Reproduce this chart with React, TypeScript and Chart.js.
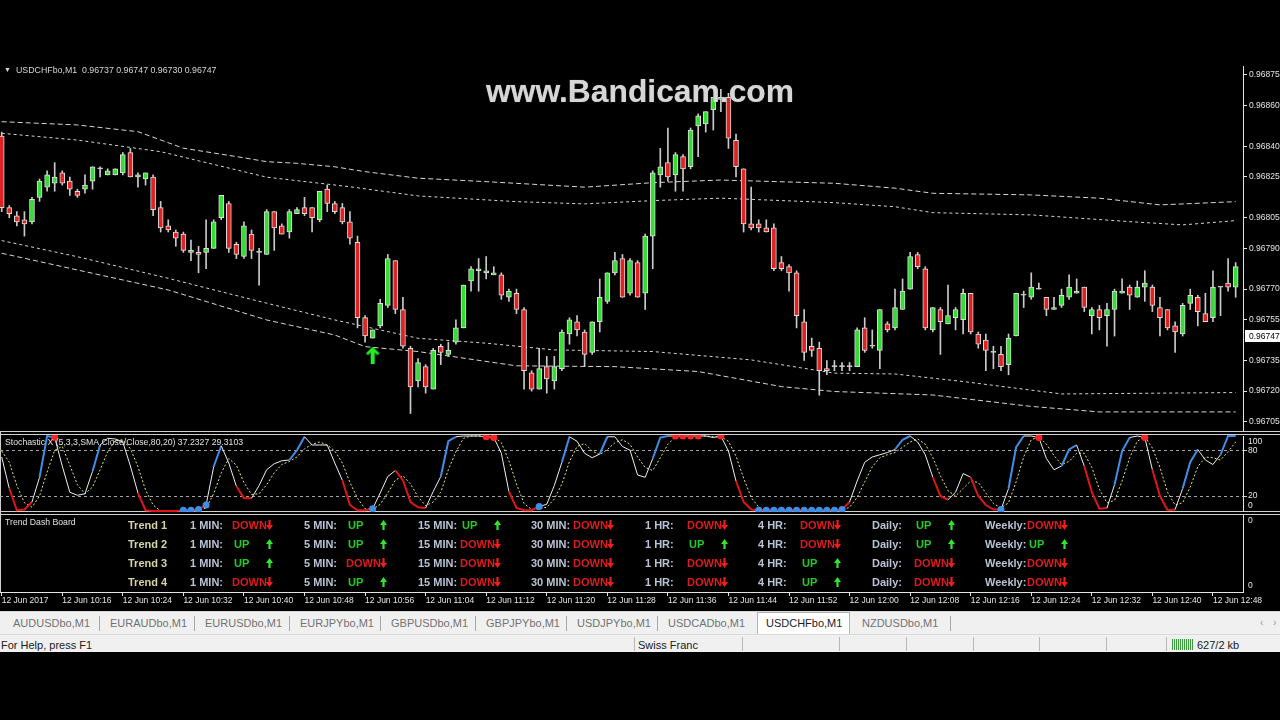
import React, { useEffect, useRef } from 'react';
import { Chart, registerables } from 'chart.js';

Chart.register(...registerables);

const FONT = '"Liberation Sans", Arial, Helvetica, sans-serif';

/* ---------------- price pane ---------------- */
const chartTitle = 'USDCHFbo,M1  0.96737 0.96747 0.96730 0.96747';
const bidPrice = 0.96747;
const priceAxisMin = 0.9670044;
const priceAxisMax = 0.9687941;
const priceTicks = [0.96875, 0.9686, 0.9684, 0.96825, 0.96805, 0.9679, 0.9677, 0.96755, 0.96735, 0.9672, 0.96705];

// M1 bars starting 12 Jun 10:08, each [open, high, low, close]
const candles: number[][] = [
  [0.96845, 0.96847, 0.96808, 0.9681], [0.9681, 0.96811, 0.96805, 0.96807], [0.96806, 0.96808, 0.96801, 0.96803], [0.96804, 0.96808, 0.96796, 0.96802],
  [0.96803, 0.96815, 0.96802, 0.96814], [0.96815, 0.96824, 0.96813, 0.96823], [0.9682, 0.96828, 0.96818, 0.96826], [0.96822, 0.96832, 0.96818, 0.96825],
  [0.96827, 0.96828, 0.96821, 0.96822], [0.96823, 0.96825, 0.96816, 0.96819], [0.96818, 0.96819, 0.96815, 0.96816], [0.96819, 0.96826, 0.96817, 0.96821],
  [0.96823, 0.9683, 0.96819, 0.9683], [0.96829, 0.9683, 0.96825, 0.96829], [0.96826, 0.96829, 0.96826, 0.96828], [0.96826, 0.96829, 0.96826, 0.96829],
  [0.96827, 0.96837, 0.96826, 0.96836], [0.96837, 0.96839, 0.96825, 0.96825], [0.96825, 0.96827, 0.9682, 0.96826], [0.96824, 0.96827, 0.96821, 0.96827],
  [0.96825, 0.96826, 0.96806, 0.96809], [0.9681, 0.96813, 0.96798, 0.968], [0.96801, 0.96804, 0.96798, 0.96799], [0.96798, 0.96799, 0.96791, 0.96795],
  [0.96797, 0.96798, 0.96788, 0.96789], [0.96788, 0.96794, 0.96784, 0.96789], [0.96788, 0.96791, 0.96778, 0.96787], [0.96788, 0.96804, 0.9678, 0.9679],
  [0.9679, 0.96804, 0.9679, 0.96803], [0.96805, 0.96816, 0.96804, 0.96816], [0.96812, 0.96813, 0.96788, 0.9679], [0.96792, 0.96793, 0.96785, 0.96787],
  [0.96786, 0.96803, 0.96785, 0.96801], [0.96797, 0.96799, 0.96785, 0.96789], [0.96788, 0.9679, 0.96772, 0.96788], [0.96787, 0.96809, 0.96787, 0.96808],
  [0.96808, 0.96808, 0.96789, 0.968], [0.96801, 0.96802, 0.96797, 0.96797], [0.96798, 0.96809, 0.96795, 0.96808], [0.96807, 0.9681, 0.96807, 0.96809],
  [0.9681, 0.96815, 0.96806, 0.96807], [0.9681, 0.9681, 0.96798, 0.96805], [0.96804, 0.96818, 0.96803, 0.96818], [0.96819, 0.96821, 0.96808, 0.96812],
  [0.96812, 0.96813, 0.96807, 0.96808], [0.9681, 0.96812, 0.96802, 0.96803], [0.96803, 0.96808, 0.96792, 0.96795], [0.96793, 0.96796, 0.96751, 0.96756],
  [0.96756, 0.96757, 0.96744, 0.96747], [0.96746, 0.9675, 0.96746, 0.9675], [0.96752, 0.96765, 0.96751, 0.96763], [0.96762, 0.96787, 0.96761, 0.96785],
  [0.96784, 0.96784, 0.96758, 0.9676], [0.9676, 0.96766, 0.96741, 0.96742], [0.96741, 0.96742, 0.96709, 0.96722], [0.96725, 0.96736, 0.96722, 0.96734],
  [0.96732, 0.96733, 0.96719, 0.96722], [0.96721, 0.96741, 0.96721, 0.9674], [0.96742, 0.96743, 0.96733, 0.96739], [0.96738, 0.96744, 0.96737, 0.9674],
  [0.96744, 0.96755, 0.96743, 0.96751], [0.96751, 0.96772, 0.96751, 0.96772], [0.96774, 0.96781, 0.96769, 0.9678], [0.96779, 0.96785, 0.96769, 0.9678],
  [0.96778, 0.96786, 0.96775, 0.96779], [0.96777, 0.96781, 0.96777, 0.96778], [0.96777, 0.96778, 0.96765, 0.96767], [0.96766, 0.9677, 0.96764, 0.96769],
  [0.96768, 0.9677, 0.96758, 0.9676], [0.9676, 0.96761, 0.96721, 0.9673], [0.96729, 0.9673, 0.9672, 0.96721], [0.96721, 0.96741, 0.96721, 0.96731],
  [0.96732, 0.96737, 0.96719, 0.96726], [0.96725, 0.96737, 0.96721, 0.96732], [0.96731, 0.9675, 0.9673, 0.96749], [0.96748, 0.96756, 0.96743, 0.96755],
  [0.96754, 0.96757, 0.96747, 0.9675], [0.96749, 0.9675, 0.96732, 0.96738], [0.96739, 0.96754, 0.96738, 0.96754], [0.96754, 0.96775, 0.96749, 0.96766],
  [0.96764, 0.96778, 0.96763, 0.96778], [0.96778, 0.96788, 0.96777, 0.96784], [0.96785, 0.96787, 0.96766, 0.96766], [0.96768, 0.96785, 0.96767, 0.96784],
  [0.96783, 0.96784, 0.96766, 0.96766], [0.96768, 0.96797, 0.9676, 0.96796], [0.96796, 0.96828, 0.9678, 0.96827], [0.96826, 0.96839, 0.9682, 0.9683],
  [0.96832, 0.96849, 0.96823, 0.96825], [0.96826, 0.96837, 0.96818, 0.96836], [0.96835, 0.96836, 0.96818, 0.96829], [0.9683, 0.96849, 0.96829, 0.96848],
  [0.9685, 0.96856, 0.96835, 0.96855], [0.96851, 0.96857, 0.96847, 0.96857], [0.96858, 0.96864, 0.96848, 0.96864], [0.96863, 0.96868, 0.96857, 0.96864],
  [0.96864, 0.96866, 0.96839, 0.96844], [0.96843, 0.96846, 0.96825, 0.9683], [0.96829, 0.96829, 0.96798, 0.96802], [0.96802, 0.9682, 0.96799, 0.968],
  [0.96802, 0.96804, 0.96798, 0.968], [0.968, 0.96804, 0.96798, 0.96798], [0.968, 0.96802, 0.96779, 0.9678], [0.96783, 0.96786, 0.96779, 0.9678],
  [0.96781, 0.96782, 0.96769, 0.96778], [0.96778, 0.96779, 0.96751, 0.96757], [0.96754, 0.9676, 0.96735, 0.96739], [0.96742, 0.96746, 0.96737, 0.9674],
  [0.96741, 0.96744, 0.96718, 0.9673], [0.96731, 0.96735, 0.96728, 0.9673], [0.96732, 0.96735, 0.9673, 0.96732], [0.96732, 0.96734, 0.9673, 0.96732],
  [0.96732, 0.96734, 0.9673, 0.96732], [0.96732, 0.96751, 0.96732, 0.9675], [0.96751, 0.96756, 0.96739, 0.9674], [0.96742, 0.9675, 0.96741, 0.96742],
  [0.9674, 0.9676, 0.96731, 0.9676], [0.96753, 0.96754, 0.96749, 0.9675], [0.96751, 0.9677, 0.9675, 0.96761], [0.9676, 0.96775, 0.9676, 0.96769],
  [0.9677, 0.96788, 0.9677, 0.96786], [0.96787, 0.96788, 0.9678, 0.96781], [0.9678, 0.96781, 0.9675, 0.96751], [0.9675, 0.96761, 0.96749, 0.96761],
  [0.9676, 0.96761, 0.96738, 0.96754], [0.96753, 0.96772, 0.96753, 0.96757], [0.96756, 0.96761, 0.9675, 0.9676], [0.96755, 0.9677, 0.96748, 0.96768],
  [0.96768, 0.96768, 0.96748, 0.96749], [0.96748, 0.96749, 0.96741, 0.96743], [0.96745, 0.96748, 0.9673, 0.9674], [0.96739, 0.96742, 0.96731, 0.96739],
  [0.96738, 0.96742, 0.9673, 0.96732], [0.96733, 0.96748, 0.96728, 0.96746], [0.96747, 0.96768, 0.96747, 0.96768], [0.96767, 0.96769, 0.96761, 0.96767],
  [0.96766, 0.96778, 0.96765, 0.96771], [0.9677, 0.96773, 0.9677, 0.9677], [0.96766, 0.96766, 0.96757, 0.9676], [0.9676, 0.96766, 0.9676, 0.96761],
  [0.96762, 0.9677, 0.96761, 0.96767], [0.96766, 0.96777, 0.96765, 0.96771], [0.96768, 0.96775, 0.96768, 0.96769], [0.96771, 0.96771, 0.96759, 0.96761],
  [0.96757, 0.96761, 0.96748, 0.9676], [0.9676, 0.96762, 0.9675, 0.96756], [0.96757, 0.96763, 0.96742, 0.9676], [0.9676, 0.9677, 0.96747, 0.96769],
  [0.96768, 0.96775, 0.96768, 0.96769], [0.96771, 0.96772, 0.9676, 0.96767], [0.96766, 0.96774, 0.96766, 0.96771], [0.96771, 0.96779, 0.96764, 0.96773],
  [0.96771, 0.96772, 0.96759, 0.96762], [0.96761, 0.96766, 0.96747, 0.96756], [0.9676, 0.9676, 0.9675, 0.96751], [0.96752, 0.96754, 0.96739, 0.96749],
  [0.96748, 0.96763, 0.96747, 0.96762], [0.96763, 0.9677, 0.9676, 0.96767], [0.96766, 0.96767, 0.96752, 0.96759], [0.96758, 0.96768, 0.96754, 0.96754],
  [0.96756, 0.96779, 0.96754, 0.96771], [0.96771, 0.96771, 0.96757, 0.96771], [0.96773, 0.96785, 0.96769, 0.96771], [0.96771, 0.96783, 0.96766, 0.96781],
];

// channel bands, sampled as [bar index, price]
const upperOuterBand = [
  [0, 0.968521], [10, 0.968505], [18, 0.968472], [24, 0.968391], [31, 0.96835], [35, 0.968325], [39, 0.968317],
  [44, 0.9683], [48, 0.968276], [55, 0.968244], [64, 0.968227], [77, 0.9682], [86, 0.968222], [95, 0.968235],
  [110, 0.968219], [118, 0.968195], [123, 0.96817], [136, 0.968162], [145, 0.968146], [153, 0.968113], [163, 0.968129],
];
const upperInnerBand = [
  [0, 0.968464], [10, 0.968431], [21, 0.968374], [35, 0.968249], [46, 0.968202], [55, 0.968157], [68, 0.968129],
  [77, 0.968118], [86, 0.968134], [95, 0.968146], [110, 0.968124], [118, 0.968104], [123, 0.968075], [136, 0.968064],
  [149, 0.968031], [156, 0.968015], [163, 0.968036],
];
const lowerInnerBand = [
  [0, 0.967938], [10, 0.967859], [22, 0.967753], [35, 0.967631], [44, 0.967549], [55, 0.967459], [64, 0.967435],
  [73, 0.967402], [86, 0.967394], [99, 0.967353], [110, 0.967288], [118, 0.967284], [127, 0.967247], [140, 0.967186],
  [163, 0.967193],
];
const lowerOuterBand = [
  [0, 0.967876], [10, 0.967794], [22, 0.967696], [35, 0.967549], [44, 0.967475], [48, 0.967418], [55, 0.967394],
  [68, 0.967324], [81, 0.96732], [92, 0.967296], [103, 0.967222], [110, 0.967198], [123, 0.967181], [136, 0.967125],
  [145, 0.967098], [163, 0.967098],
];

// buy arrow drawn below a bar
const buySignalBars = [49];
const buySignalPrices = [0.967377];

/* ---------------- stochastic pane ---------------- */
const stochLabel = 'Stochastic X (5,3,3,SMA,Close/Close,80,20) 37.2327 29.3103';
const stochLevels = [20, 80];
const stochK = [
  72, 30, 1, 2, 12, 45, 100, 98, 60, 25, 21, 23, 53, 88, 97, 96, 92, 60, 24, 1,
  0, 0, 0, 0, 1, 1, 2, 8, 59, 87, 64, 33, 17, 17, 34, 55, 63, 67, 68, 81,
  99, 88, 88, 88, 64, 41, 8, 1, 1, 3, 24, 46, 54, 41, 12, 5, 4, 26, 46, 93,
  99, 100, 100, 100, 99, 98, 77, 26, 4, 1, 1, 6, 9, 34, 65, 99, 93, 77, 71, 76,
  99, 99, 86, 81, 48, 45, 70, 98, 100, 100, 100, 100, 100, 100, 98, 100, 80, 40, 12, 2,
  1, 1, 1, 1, 1, 1, 1, 1, 1, 1, 1, 2, 12, 40, 65, 72, 75, 78, 82, 95,
  100, 92, 75, 45, 20, 15, 25, 50, 45, 20, 8, 2, 2, 30, 85, 100, 100, 98, 70, 55,
  60, 82, 88, 60, 25, 3, 4, 35, 80, 98, 100, 98, 55, 20, 1, 2, 30, 65, 82, 68,
  62, 75, 100, 100,
];
const stochD = [
  80, 65, 34, 11, 5, 20, 52, 81, 86, 61, 35, 23, 32, 55, 79, 94, 95, 83, 59, 28,
  8, 0, 0, 0, 0, 1, 1, 4, 23, 51, 70, 61, 38, 22, 23, 35, 51, 62, 66, 72,
  83, 89, 92, 88, 80, 64, 38, 17, 3, 2, 9, 24, 41, 47, 36, 19, 7, 12, 25, 55,
  79, 97, 100, 100, 100, 99, 91, 67, 36, 10, 2, 3, 5, 16, 36, 66, 86, 90, 80, 75,
  82, 91, 95, 89, 72, 58, 54, 71, 89, 99, 100, 100, 100, 100, 99, 99, 93, 73, 44, 18,
  5, 1, 1, 1, 1, 1, 1, 1, 1, 1, 1, 1, 5, 18, 39, 59, 71, 75, 78, 85,
  92, 96, 89, 71, 47, 27, 20, 30, 40, 38, 24, 10, 4, 11, 39, 72, 95, 99, 89, 74,
  62, 66, 77, 77, 58, 29, 11, 14, 40, 71, 93, 99, 84, 58, 25, 8, 11, 32, 59, 72,
  71, 68, 79, 92,
];
// colour state of each %K segment: w = neutral, b = rising strength, r = falling strength
const stochKSegments =
  'wrrrwbbwww' + 'wwbwwwwwrr' + 'rrrrrrrwbw' + 'wrrwwwwwbb' + 'wwwwwrrrrw' +
  'wwrrrrwwbb' + 'wwwwwwwrrr' + 'rwwwbwwwwb' + 'wwwwwwbbww' + 'wwwwwwwrrr' +
  'rrrrrrrrrr' + 'rrwwwwwwbb' + 'wwwrrwwwrr' + 'rrwbbwwwww' + 'bbwrrrwbbw' +
  'wwrrrwbbww' + 'wbb';
const stochSellDots = [7, 64, 65, 89, 90, 91, 92, 95, 137, 151];
const stochBuyDots = [24, 25, 26, 27, 49, 71, 100, 101, 102, 103, 104, 105, 106, 107, 108, 109, 110, 111, 132];

/* ---------------- time axis ---------------- */
const timeLabels = [
  '12 Jun 2017', '12 Jun 10:16', '12 Jun 10:24', '12 Jun 10:32', '12 Jun 10:40', '12 Jun 10:48', '12 Jun 10:56',
  '12 Jun 11:04', '12 Jun 11:12', '12 Jun 11:20', '12 Jun 11:28', '12 Jun 11:36', '12 Jun 11:44', '12 Jun 11:52',
  '12 Jun 12:00', '12 Jun 12:08', '12 Jun 12:16', '12 Jun 12:24', '12 Jun 12:32', '12 Jun 12:40', '12 Jun 12:48',
];
const BARS_PER_LABEL = 8;

/* ---------------- trend dashboard ---------------- */
const trendNames = ['Trend 1', 'Trend 2', 'Trend 3', 'Trend 4'];
const trendPeriods = ['1 MIN:', '5 MIN:', '15 MIN:', '30 MIN:', '1 HR:', '4 HR:', 'Daily:', 'Weekly:'];
const trendStates = [
  ['DOWN', 'UP', 'UP', 'DOWN', 'DOWN', 'DOWN', 'UP', 'DOWN'],
  ['UP', 'UP', 'DOWN', 'DOWN', 'UP', 'DOWN', 'UP', 'UP'],
  ['UP', 'DOWN', 'DOWN', 'DOWN', 'DOWN', 'UP', 'DOWN', 'DOWN'],
  ['DOWN', 'UP', 'DOWN', 'DOWN', 'DOWN', 'UP', 'DOWN', 'DOWN'],
];

/* ---------------- terminal chrome ---------------- */
const symbolTabs = ['AUDUSDbo,M1', 'EURAUDbo,M1', 'EURUSDbo,M1', 'EURJPYbo,M1', 'GBPUSDbo,M1', 'GBPJPYbo,M1', 'USDJPYbo,M1', 'USDCADbo,M1', 'USDCHFbo,M1', 'NZDUSDbo,M1'];
const activeSymbol = 'USDCHFbo,M1';
const statusHelp = 'For Help, press F1';
const statusSymbolName = 'Swiss Franc';
const statusTraffic = '627/2 kb';

/* ---------------- layout helpers ---------------- */
const X_MIN = -0.225;
const X_MAX = 163.97;
const AXIS_W = 37;
const AXIS_COLOR = '#e4e4e4';
const tabTextX = [13, 110, 205, 300, 391, 486, 577, 668, 766, 862];
const tabSeparatorX = [99, 194, 289, 380, 475, 566, 657, 950];
const statusSeparatorX = [634, 742, 839, 906, 973, 1039, 1106, 1166];
const dashColX = [190, 304, 418, 531, 645, 758, 872, 985];
const dashRowTop = [518, 537, 556, 575];

function fixRightAxis(scale: any) {
  scale.width = AXIS_W;
  scale.paddingTop = 0;
  scale.paddingBottom = 0;
}

const hiddenX = () => ({ type: 'linear', min: X_MIN, max: X_MAX, bounds: 'data', offset: false, display: false });

const common = {
  responsive: false,
  maintainAspectRatio: false,
  animation: false,
  events: [],
  plugins: { legend: { display: false }, tooltip: { enabled: false } },
};

function makeUpArrow(color: string) {
  const c = document.createElement('canvas');
  c.width = 14;
  c.height = 17;
  const g = c.getContext('2d')!;
  g.fillStyle = color;
  g.beginPath();
  g.moveTo(7, 0);
  g.lineTo(14, 7);
  g.lineTo(11.5, 8.5);
  g.lineTo(9, 6);
  g.lineTo(9, 17);
  g.lineTo(5, 17);
  g.lineTo(5, 6);
  g.lineTo(2.5, 8.5);
  g.lineTo(0, 7);
  g.closePath();
  g.fill();
  return c;
}

const priceDecor = {
  id: 'priceDecor',
  afterDraw(chart: any) {
    const { ctx, chartArea } = chart;
    const y = chart.scales.y;
    ctx.save();
    ctx.textBaseline = 'middle';
    ctx.fillStyle = '#d6d6d6';
    ctx.font = `7px ${FONT}`;
    ctx.fillText('\u25BC', 4, 4.5);
    ctx.font = `8.8px ${FONT}`;
    ctx.fillText(chartTitle, 16, 4.5);
    const py = Math.round(y.getPixelForValue(bidPrice));
    ctx.fillStyle = '#ffffff';
    ctx.fillRect(chartArea.right + 2, py - 6, chart.width - chartArea.right - 2, 12);
    ctx.fillStyle = '#000000';
    ctx.font = `8.5px ${FONT}`;
    ctx.fillText(bidPrice.toFixed(5), chartArea.right + 6, py + 0.5);
    ctx.restore();
  },
};

const stochDecor = {
  id: 'stochDecor',
  afterDraw(chart: any) {
    const { ctx, chartArea } = chart;
    ctx.save();
    ctx.textBaseline = 'middle';
    ctx.fillStyle = '#e2e2e2';
    ctx.font = `8.7px ${FONT}`;
    ctx.fillText(stochLabel, 5, 8);
    ctx.font = `8.5px ${FONT}`;
    ctx.fillStyle = AXIS_COLOR;
    ctx.fillText('100', chartArea.right + 5, 6.7);
    ctx.fillText('0', chartArea.right + 5, 71);
    ctx.restore();
  },
};

const dashDecor = {
  id: 'dashDecor',
  afterDraw(chart: any) {
    const { ctx, chartArea } = chart;
    ctx.save();
    ctx.textBaseline = 'middle';
    ctx.fillStyle = '#e2e2e2';
    ctx.font = `8.7px ${FONT}`;
    ctx.fillText('Trend Dash Board', 5, 8);
    ctx.font = `8.5px ${FONT}`;
    ctx.fillStyle = AXIS_COLOR;
    ctx.fillText('0', chartArea.right + 5, 6);
    ctx.fillText('0', chartArea.right + 5, 71);
    ctx.restore();
  },
};

function bandDataset(points: number[][], dash: number[]) {
  return {
    type: 'line',
    data: points.map(([i, p]) => ({ x: i, y: p })),
    borderColor: '#d6d6d6',
    borderWidth: 1,
    borderDash: dash,
    pointRadius: 0,
    tension: 0,
  };
}

function priceConfig(arrow: HTMLCanvasElement): any {
  const BULL = '#34dc34';
  const BEAR = '#e02222';
  const DOJI = '#d0d0d0';
  const fills = candles.map(([o, , , c]) => (c > o ? BULL : c < o ? BEAR : DOJI));
  const edges = candles.map(([o, , , c]) => (c === o ? DOJI : '#dedede'));
  return {
    type: 'bar',
    data: {
      datasets: [
        {
          type: 'scatter',
          data: buySignalBars.map((b, k) => ({ x: b, y: buySignalPrices[k] })),
          pointStyle: arrow,
          pointRadius: 8,
        },
        {
          type: 'bar',
          data: candles.map((c, i) => ({ x: i, y: [c[0], c[3]] })),
          backgroundColor: fills,
          borderColor: edges,
          borderWidth: 1,
          borderSkipped: false,
          grouped: false,
          maxBarThickness: 5,
          minBarLength: 1,
          categoryPercentage: 1,
          barPercentage: 1,
        },
        {
          type: 'bar',
          data: candles.map((c, i) => ({ x: i, y: [c[2], c[1]] })),
          backgroundColor: '#cacaca',
          borderWidth: 0,
          grouped: false,
          maxBarThickness: 1,
          categoryPercentage: 1,
          barPercentage: 1,
        },
        bandDataset(upperOuterBand, [5, 3]),
        bandDataset(upperInnerBand, [3, 3]),
        bandDataset(lowerInnerBand, [3, 3]),
        bandDataset(lowerOuterBand, [5, 3]),
      ],
    },
    options: {
      ...common,
      layout: { autoPadding: false, padding: 0 },
      scales: {
        x: hiddenX(),
        y: {
          position: 'right',
          min: priceAxisMin,
          max: priceAxisMax,
          bounds: 'data',
          afterBuildTicks: (s: any) => {
            s.ticks = priceTicks.map((v) => ({ value: v }));
          },
          afterFit: fixRightAxis,
          ticks: {
            color: AXIS_COLOR,
            font: { family: FONT, size: 8.5 },
            padding: 2,
            autoSkip: false,
            callback: (v: any) => Number(v).toFixed(5),
          },
          grid: { drawOnChartArea: false, drawTicks: true, tickLength: 4, tickColor: AXIS_COLOR },
          border: { display: true, color: AXIS_COLOR, width: 1 },
        },
      },
    },
    plugins: [priceDecor],
  };
}

function stochConfig(): any {
  const SEG: Record<string, string> = { w: '#eeeeee', b: '#3f8fe8', r: '#e01616' };
  return {
    type: 'line',
    data: {
      datasets: [
        {
          type: 'scatter',
          data: stochSellDots.map((i) => ({ x: i, y: stochK[i] })),
          pointRadius: 3.5,
          backgroundColor: '#ff2424',
          borderColor: '#ff2424',
          borderWidth: 0,
          clip: false,
        },
        {
          type: 'scatter',
          data: stochBuyDots.map((i) => ({ x: i, y: stochK[i] })),
          pointRadius: 3.5,
          backgroundColor: '#3f8fe8',
          borderColor: '#3f8fe8',
          borderWidth: 0,
          clip: false,
        },
        {
          data: stochK.map((v, i) => ({ x: i, y: v })),
          borderColor: '#eeeeee',
          borderWidth: 1,
          pointRadius: 0,
          tension: 0,
          clip: false,
          segment: {
            borderColor: (ctx: any) => SEG[stochKSegments[ctx.p0DataIndex]] || SEG.w,
            borderWidth: (ctx: any) => (stochKSegments[ctx.p0DataIndex] === 'w' ? 1 : 2),
          },
        },
        {
          data: stochD.map((v, i) => ({ x: i, y: v })),
          borderColor: '#e8e86a',
          borderWidth: 1,
          borderDash: [2, 2],
          pointRadius: 0,
          tension: 0,
          clip: false,
        },
      ],
    },
    options: {
      ...common,
      layout: { autoPadding: false, padding: { top: 1, bottom: 1, left: 0, right: 0 } },
      scales: {
        x: hiddenX(),
        y: {
          position: 'right',
          min: 0,
          max: 100,
          bounds: 'data',
          afterBuildTicks: (s: any) => {
            s.ticks = stochLevels.map((v) => ({ value: v }));
          },
          afterFit: fixRightAxis,
          ticks: { color: AXIS_COLOR, font: { family: FONT, size: 8.5 }, padding: 1, autoSkip: false },
          grid: { color: '#a4a4a4', lineWidth: 1, drawOnChartArea: true, tickLength: 4, tickColor: '#cfcfcf' },
          border: { display: true, color: AXIS_COLOR, width: 1, dash: [3, 3] },
        },
      },
    },
    plugins: [stochDecor],
  };
}

function dashConfig(): any {
  return {
    type: 'line',
    data: { datasets: [] },
    options: {
      ...common,
      layout: { autoPadding: false, padding: 0 },
      scales: {
        x: {
          type: 'linear',
          position: 'bottom',
          min: X_MIN,
          max: X_MAX,
          bounds: 'data',
          offset: false,
          afterBuildTicks: (s: any) => {
            s.ticks = timeLabels.map((_, k) => ({ value: k * BARS_PER_LABEL }));
          },
          afterFit: (s: any) => {
            s.height = 18;
            s.paddingLeft = 0;
            s.paddingRight = 0;
          },
          ticks: {
            color: AXIS_COLOR,
            font: { family: FONT, size: 8.5 },
            autoSkip: false,
            maxRotation: 0,
            minRotation: 0,
            align: 'start',
            padding: 0,
            callback: (v: any) => timeLabels[Math.round(Number(v) / BARS_PER_LABEL)],
          },
          grid: { drawOnChartArea: false, drawTicks: true, tickLength: 4, tickColor: AXIS_COLOR },
          border: { display: true, color: AXIS_COLOR, width: 1 },
        },
        y: {
          position: 'right',
          min: 0,
          max: 1,
          afterFit: fixRightAxis,
          ticks: { display: false },
          grid: { display: false },
          border: { display: true, color: AXIS_COLOR, width: 1 },
        },
      },
    },
    plugins: [dashDecor],
  };
}

const abs = (left: number, top: number, width: number, height: number, background: string): React.CSSProperties => ({
  position: 'absolute',
  left,
  top,
  width,
  height,
  background,
});

function TrendArrow({ up, left }: { up: boolean; left: number }) {
  const color = up ? '#2ee82e' : '#ec1e1e';
  const d = up ? 'M3.5 0 L7 5 L4.6 5 L4.6 10 L2.4 10 L2.4 5 L0 5 Z' : 'M2.4 0 L4.6 0 L4.6 5 L7 5 L3.5 10 L0 5 L2.4 5 Z';
  return (
    <svg width={7} height={10} viewBox="0 0 7 10" style={{ position: 'absolute', left, top: 2 }}>
      <path d={d} fill={color} />
    </svg>
  );
}

export default function App() {
  const priceRef = useRef<HTMLCanvasElement>(null);
  const stochRef = useRef<HTMLCanvasElement>(null);
  const dashRef = useRef<HTMLCanvasElement>(null);

  useEffect(() => {
    const arrow = makeUpArrow('#22ee22');
    const charts = [
      new Chart(priceRef.current!, priceConfig(arrow)),
      new Chart(stochRef.current!, stochConfig()),
      new Chart(dashRef.current!, dashConfig()),
    ];
    return () => charts.forEach((c) => c.destroy());
  }, []);

  const textBase: React.CSSProperties = { position: 'absolute', whiteSpace: 'nowrap', lineHeight: '14px' };

  return (
    <div
      style={{
        position: 'fixed',
        left: 0,
        top: 0,
        width: 1280,
        height: 720,
        background: '#000',
        overflow: 'hidden',
        fontFamily: FONT,
      }}
    >
      {/* pane separators and frame */}
      <div style={abs(0, 431, 1280, 1, '#cfcfcf')} />
      <div style={abs(0, 434, 1280, 1, '#cfcfcf')} />
      <div style={abs(0, 511, 1280, 1, '#cfcfcf')} />
      <div style={abs(0, 514, 1280, 1, '#cfcfcf')} />
      <div style={abs(0, 431, 1, 162, '#cfcfcf')} />

      <canvas ref={priceRef} width={1280} height={365} style={{ position: 'absolute', left: 0, top: 66 }} />
      <canvas ref={stochRef} width={1280} height={77} style={{ position: 'absolute', left: 0, top: 435 }} />
      <canvas ref={dashRef} width={1280} height={95} style={{ position: 'absolute', left: 0, top: 515 }} />

      {/* trend dashboard rows */}
      {trendNames.map((name, r) => (
        <div key={name} style={{ ...abs(0, dashRowTop[r], 1243, 14, 'transparent'), font: `bold 11px ${FONT}` }}>
          <span style={{ ...textBase, left: 128, color: '#d8d3a4' }}>{name}</span>
          {trendPeriods.map((p, c) => {
            const up = trendStates[r][c] === 'UP';
            return (
              <React.Fragment key={p}>
                <span style={{ ...textBase, left: dashColX[c], color: '#b8c3d5' }}>{p}</span>
                <span style={{ ...textBase, left: dashColX[c] + (up ? 44 : 42), color: up ? '#22cc22' : '#dc1c1c' }}>
                  {trendStates[r][c]}
                </span>
                <TrendArrow up={up} left={dashColX[c] + 76} />
              </React.Fragment>
            );
          })}
        </div>
      ))}

      {/* screen recorder watermark */}
      <div
        style={{
          position: 'absolute',
          left: 486,
          top: 75,
          font: `bold 31.8px ${FONT}`,
          lineHeight: '32px',
          color: '#d6d6d6',
          whiteSpace: 'nowrap',
          textShadow: '0 0 1px #7a7a7a',
        }}
      >
        www.Bandicam.com
      </div>

      {/* symbol tabs */}
      <div style={{ ...abs(0, 611, 1280, 23, '#f0f0f0'), borderTop: '1px solid #d6d6d6', boxSizing: 'border-box' }} />
      <div
        style={{
          ...abs(757, 612, 93, 22, '#ffffff'),
          border: '1px solid #b4b4b4',
          borderBottom: 'none',
          boxSizing: 'border-box',
        }}
      />
      {tabSeparatorX.map((x) => (
        <div key={x} style={abs(x, 616, 1, 15, '#a8a8a8')} />
      ))}
      {symbolTabs.map((s, i) => (
        <span
          key={s}
          style={{ ...textBase, left: tabTextX[i], top: 617, font: `11px ${FONT}`, color: s === activeSymbol ? '#1c1c1c' : '#727272' }}
        >
          {s}
        </span>
      ))}
      <span style={{ ...textBase, left: 1260, top: 617, font: `10px ${FONT}`, color: '#9a9a9a' }}>{'\u2039'}</span>
      <span style={{ ...textBase, left: 1273, top: 617, font: `10px ${FONT}`, color: '#9a9a9a' }}>{'\u203A'}</span>

      {/* status bar */}
      <div style={{ ...abs(0, 634, 1280, 18, '#f0f0f0'), borderTop: '1px solid #dadada', boxSizing: 'border-box' }} />
      {statusSeparatorX.map((x) => (
        <div key={x} style={abs(x, 637, 1, 14, '#b8b8b8')} />
      ))}
      <span style={{ ...textBase, left: 1, top: 639, font: `11px ${FONT}`, color: '#202020' }}>{statusHelp}</span>
      <span style={{ ...textBase, left: 638, top: 639, font: `11px ${FONT}`, color: '#202020' }}>{statusSymbolName}</span>
      <div
        style={{
          ...abs(1172, 639, 21, 11, 'transparent'),
          backgroundImage: 'repeating-linear-gradient(90deg, #3c9a3c 0 1px, #f0f0f0 1px 2px)',
        }}
      />
      <span style={{ ...textBase, left: 1197, top: 639, font: `11px ${FONT}`, color: '#202020' }}>{statusTraffic}</span>
    </div>
  );
}
